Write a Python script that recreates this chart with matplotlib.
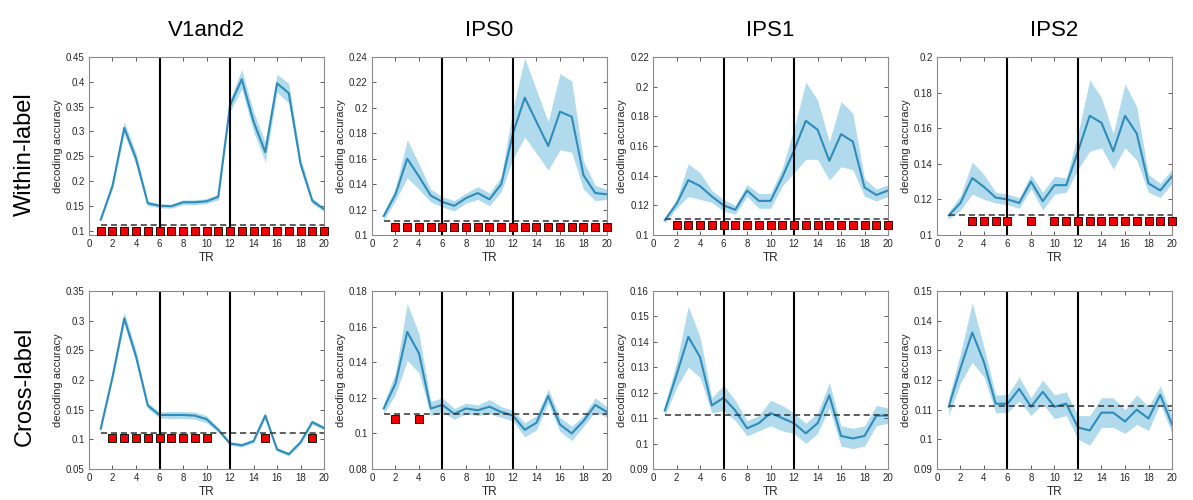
"""
Decoding accuracy over TR for four ROIs, within-label and cross-label.
"""

import matplotlib.pyplot as plt
import numpy as np
from matplotlib.ticker import FuncFormatter

plt.rcParams['font.family'] = ['Liberation Sans', 'DejaVu Sans']

TR = np.arange(1, 21)
ROIS = ["V1and2", "IPS0", "IPS1", "IPS2"]
ROWS = ["Within-label", "Cross-label"]
CHANCE = 1 / 9

# Within-label mean accuracy and SEM per ROI
within_v1 = [0.122, 0.190, 0.307, 0.245, 0.155, 0.150, 0.149, 0.157, 0.157, 0.159,
             0.168, 0.352, 0.405, 0.320, 0.258, 0.397, 0.377, 0.235, 0.160, 0.143]
within_v1_sem = [0.003, 0.006, 0.012, 0.012, 0.005, 0.004, 0.004, 0.005, 0.005, 0.005,
                 0.006, 0.012, 0.020, 0.020, 0.020, 0.018, 0.020, 0.012, 0.006, 0.004]
within_ips0 = [0.115, 0.132, 0.160, 0.146, 0.131, 0.126, 0.123, 0.129, 0.133, 0.128,
               0.140, 0.180, 0.208, 0.189, 0.170, 0.197, 0.193, 0.147, 0.133, 0.132]
within_ips0_sem = [0.003, 0.005, 0.015, 0.010, 0.005, 0.004, 0.004, 0.004, 0.005, 0.005,
                   0.006, 0.020, 0.031, 0.025, 0.019, 0.030, 0.028, 0.011, 0.006, 0.004]
within_ips1 = [0.110, 0.121, 0.137, 0.133, 0.126, 0.120, 0.117, 0.130, 0.123, 0.123,
               0.139, 0.157, 0.177, 0.171, 0.150, 0.168, 0.163, 0.132, 0.127, 0.130]
within_ips1_sem = [0.002, 0.003, 0.011, 0.009, 0.004, 0.004, 0.003, 0.004, 0.005, 0.005,
                   0.006, 0.015, 0.026, 0.020, 0.013, 0.022, 0.019, 0.006, 0.004, 0.004]
within_ips2 = [0.111, 0.118, 0.132, 0.127, 0.121, 0.120, 0.118, 0.130, 0.119, 0.128,
               0.128, 0.147, 0.167, 0.163, 0.147, 0.167, 0.157, 0.129, 0.125, 0.133]
within_ips2_sem = [0.002, 0.004, 0.009, 0.007, 0.003, 0.003, 0.003, 0.004, 0.005, 0.005,
                   0.004, 0.010, 0.020, 0.014, 0.010, 0.018, 0.015, 0.005, 0.004, 0.004]

# Cross-label mean accuracy and SEM per ROI
cross_v1 = [0.118, 0.205, 0.304, 0.240, 0.157, 0.141, 0.141, 0.141, 0.140, 0.134,
            0.116, 0.093, 0.090, 0.097, 0.140, 0.083, 0.075, 0.095, 0.129, 0.119]
cross_v1_sem = [0.003, 0.005, 0.010, 0.010, 0.005, 0.005, 0.006, 0.006, 0.006, 0.006,
                0.004, 0.003, 0.003, 0.003, 0.005, 0.003, 0.003, 0.004, 0.004, 0.003]
cross_ips0 = [0.114, 0.128, 0.157, 0.145, 0.114, 0.116, 0.111, 0.114, 0.113, 0.115,
              0.112, 0.110, 0.102, 0.106, 0.121, 0.105, 0.100, 0.107, 0.116, 0.112]
cross_ips0_sem = [0.003, 0.006, 0.016, 0.011, 0.004, 0.004, 0.003, 0.003, 0.003, 0.004,
                  0.003, 0.003, 0.004, 0.004, 0.004, 0.004, 0.004, 0.003, 0.004, 0.003]
cross_ips1 = [0.113, 0.127, 0.142, 0.134, 0.115, 0.118, 0.113, 0.106, 0.108, 0.112,
              0.110, 0.108, 0.104, 0.108, 0.119, 0.103, 0.102, 0.103, 0.111, 0.111]
cross_ips1_sem = [0.002, 0.005, 0.012, 0.008, 0.003, 0.005, 0.004, 0.003, 0.003, 0.005,
                  0.005, 0.004, 0.004, 0.004, 0.005, 0.004, 0.004, 0.004, 0.004, 0.003]
cross_ips2 = [0.111, 0.124, 0.136, 0.126, 0.112, 0.112, 0.117, 0.111, 0.116, 0.111,
              0.112, 0.104, 0.103, 0.109, 0.109, 0.106, 0.110, 0.107, 0.115, 0.105]
cross_ips2_sem = [0.003, 0.005, 0.010, 0.005, 0.003, 0.003, 0.004, 0.003, 0.004, 0.004,
                  0.004, 0.004, 0.005, 0.005, 0.005, 0.004, 0.005, 0.004, 0.003, 0.003]

# TRs with significant above-chance decoding, and the height the markers sit at
within_sig = [list(range(1, 21)), list(range(2, 21)), list(range(2, 21)),
              [3, 4, 5, 6, 8] + list(range(10, 21))]
within_sig_y = [0.100, 0.106, 0.107, 0.108]
cross_sig = [list(range(2, 11)) + [15, 19], [2, 4], [], []]
cross_sig_y = [0.102, 0.108, 0.0, 0.0]

within_ylim = [(0.091, 0.45), (0.1, 0.24), (0.1, 0.22), (0.1, 0.2)]
cross_ylim = [(0.05, 0.35), (0.08, 0.18), (0.09, 0.16), (0.09, 0.15)]
within_ystep = [0.05, 0.02, 0.02, 0.02]
cross_ystep = [0.05, 0.02, 0.01, 0.01]

means = [[within_v1, within_ips0, within_ips1, within_ips2],
         [cross_v1, cross_ips0, cross_ips1, cross_ips2]]
sems = [[within_v1_sem, within_ips0_sem, within_ips1_sem, within_ips2_sem],
        [cross_v1_sem, cross_ips0_sem, cross_ips1_sem, cross_ips2_sem]]
sigs = [within_sig, cross_sig]
sig_ys = [within_sig_y, cross_sig_y]
ylims = [within_ylim, cross_ylim]
ysteps = [within_ystep, cross_ystep]

LINE = "#2f8cba"
SHADE = "#a9d8ea"
AXCOL = "#404040"

fig = plt.figure(figsize=(11.93, 5.0), dpi=100)
lefts = [0.0746, 0.3118, 0.5474, 0.7854]
bottoms = [0.53, 0.062]
row_label_y = [0.692, 0.228]
fmt = FuncFormatter(lambda v, p: "%g" % round(v, 4))

for r in range(2):
    for c in range(4):
        ax = fig.add_axes([lefts[c], bottoms[r], 0.197, 0.356])
        m = np.array(means[r][c])
        s = np.array(sems[r][c])
        ax.fill_between(TR, m - s, m + s, color=SHADE, lw=0, alpha=0.9)
        ax.plot(TR, m, color=LINE, lw=1.5)
        ax.plot([1, 20], [CHANCE, CHANCE], ls=(0, (4, 2.5)), color="#333333", lw=1.1)
        for xv in (6, 12):
            ax.axvline(xv, color="black", lw=1.5)
        sig = sigs[r][c]
        if sig:
            ax.plot(sig, [sig_ys[r][c]] * len(sig), ls="none", marker="s",
                    ms=5.2, mfc="#ee0000", mec="black", mew=0.6, clip_on=False,
                    zorder=5)
        lo, hi = ylims[r][c]
        ax.set_xlim(0, 20)
        ax.set_ylim(lo, hi)
        ax.set_xticks(range(0, 21, 2))
        step = ysteps[r][c]
        start = np.ceil(lo / step - 1e-6) * step
        ax.set_yticks(np.arange(start, hi + step / 2, step))
        ax.yaxis.set_major_formatter(fmt)
        ax.tick_params(direction="in", top=True, right=True, length=3,
                       width=0.6, color=AXCOL, labelsize=7, labelcolor="#262626",
                       pad=3)
        for sp in ax.spines.values():
            sp.set_color("#8a8a8a")
            sp.set_linewidth(0.8)
        ax.set_xlabel("TR", fontsize=8.5, color="#262626", labelpad=2)
        ax.set_ylabel("decoding accuracy", fontsize=8, color="#262626", labelpad=2)
        if r == 0:
            ax.set_title(ROIS[c], fontsize=16, pad=15)

for r in range(2):
    fig.text(0.021, row_label_y[r], ROWS[r], rotation=90, fontsize=17,
             ha="center", va="center")

plt.savefig("out.png", dpi=100)
